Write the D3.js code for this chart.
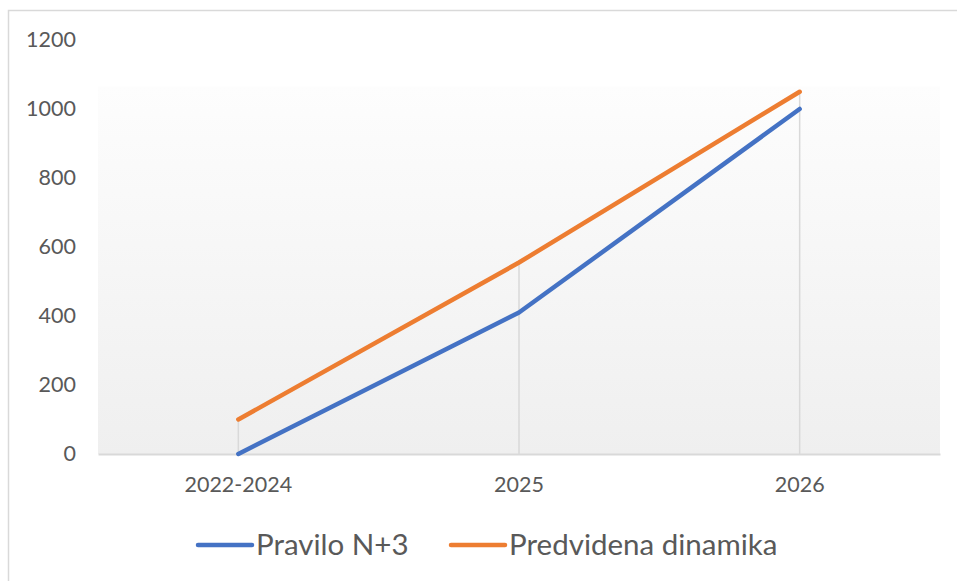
<!DOCTYPE html>
<html><head><meta charset="utf-8">
<script src="https://cdn.jsdelivr.net/npm/d3@7"></script>
<style>
html,body{margin:0;padding:0;background:#fff;}
svg{display:block;font-family:Lato, "Open Sans", sans-serif;}
</style></head>
<body>
<svg id="c" width="957" height="581"></svg>
<script>
const categories = ["2022-2024", "2025", "2026"];
const seriesNames = ["Pravilo N+3", "Predvidena dinamika"];
const pravilo = [0, 410, 1000];
const predvidena = [100, 555, 1050];
const yTicks = [0, 200, 400, 600, 800, 1000, 1200];
const colors = ["#4472C4", "#ED7D31"];

(function () {
const svg = d3.select("#c");
const mLeft = 98, mRight = 940, mTop = 40, mBottom = 454;

// frame
svg.append("rect").attr("x", 8.5).attr("y", 10.5).attr("width", 960).attr("height", 600)
  .attr("fill", "#fff").attr("stroke", "#d9d9d9").attr("stroke-width", 1.5);

const x = d3.scaleBand().domain(categories).range([mLeft, mRight]).padding(0);
const y = d3.scaleLinear().domain([0, 1200]).range([mBottom, mTop]);

// gradient plot background
const defs = svg.append("defs");
const g = defs.append("linearGradient").attr("id", "bg").attr("x1", 0).attr("y1", 0).attr("x2", 0).attr("y2", 1);
g.append("stop").attr("offset", "0%").attr("stop-color", "#fdfdfd");
g.append("stop").attr("offset", "100%").attr("stop-color", "#efefef");
svg.append("rect").attr("x", mLeft).attr("y", y(1065)).attr("width", mRight - mLeft)
  .attr("height", mBottom - y(1065)).attr("fill", "url(#bg)");

// y axis labels
const yAxis = d3.axisLeft(y).tickValues(yTicks).tickSize(0).tickPadding(0).tickFormat(d3.format("d"));
const ya = svg.append("g").attr("transform", `translate(${mLeft - 22},0)`).call(yAxis);
ya.select(".domain").remove();
ya.selectAll("text").attr("font-size", 21.5).attr("fill", "#595959").attr("font-family", "Lato, sans-serif");

// drop lines
categories.forEach((c, i) => {
  const m = Math.max(pravilo[i], predvidena[i]);
  svg.append("line").attr("x1", x(c) + x.bandwidth() / 2).attr("x2", x(c) + x.bandwidth() / 2)
    .attr("y1", y(m)).attr("y2", y(0)).attr("stroke", "#d9d9d9").attr("stroke-width", 1.5);
});

// x axis
const xAxis = d3.axisBottom(x).tickSize(0).tickPadding(23);
const xa = svg.append("g").attr("transform", `translate(0,${y(0)})`).call(xAxis);
xa.select(".domain").attr("stroke", "#d9d9d9").attr("stroke-width", 2);
xa.selectAll("text").attr("font-size", 21.5).attr("fill", "#595959").attr("font-family", "Lato, sans-serif");

// lines
const line = d3.line().x((d, i) => x(categories[i]) + x.bandwidth() / 2).y(d => y(d));
[pravilo, predvidena].forEach((s, k) => {
  svg.append("path").datum(s).attr("d", line).attr("fill", "none")
    .attr("stroke", colors[k]).attr("stroke-width", 4.5).attr("stroke-linecap", "round").attr("stroke-linejoin", "round");
});

// legend
const legendX = [198, 451];
seriesNames.forEach((n, k) => {
  const lg = svg.append("g").attr("transform", `translate(${legendX[k]},545)`);
  lg.append("line").attr("x1", 0).attr("x2", 54).attr("y1", 0).attr("y2", 0)
    .attr("stroke", colors[k]).attr("stroke-width", 4.5).attr("stroke-linecap", "round");
  lg.append("text").attr("x", 58).attr("y", 0).attr("dy", "0.35em").text(n)
    .attr("font-size", 29.5).attr("fill", "#595959").attr("font-family", "Lato, sans-serif");
});
})();
</script>
</body></html>
